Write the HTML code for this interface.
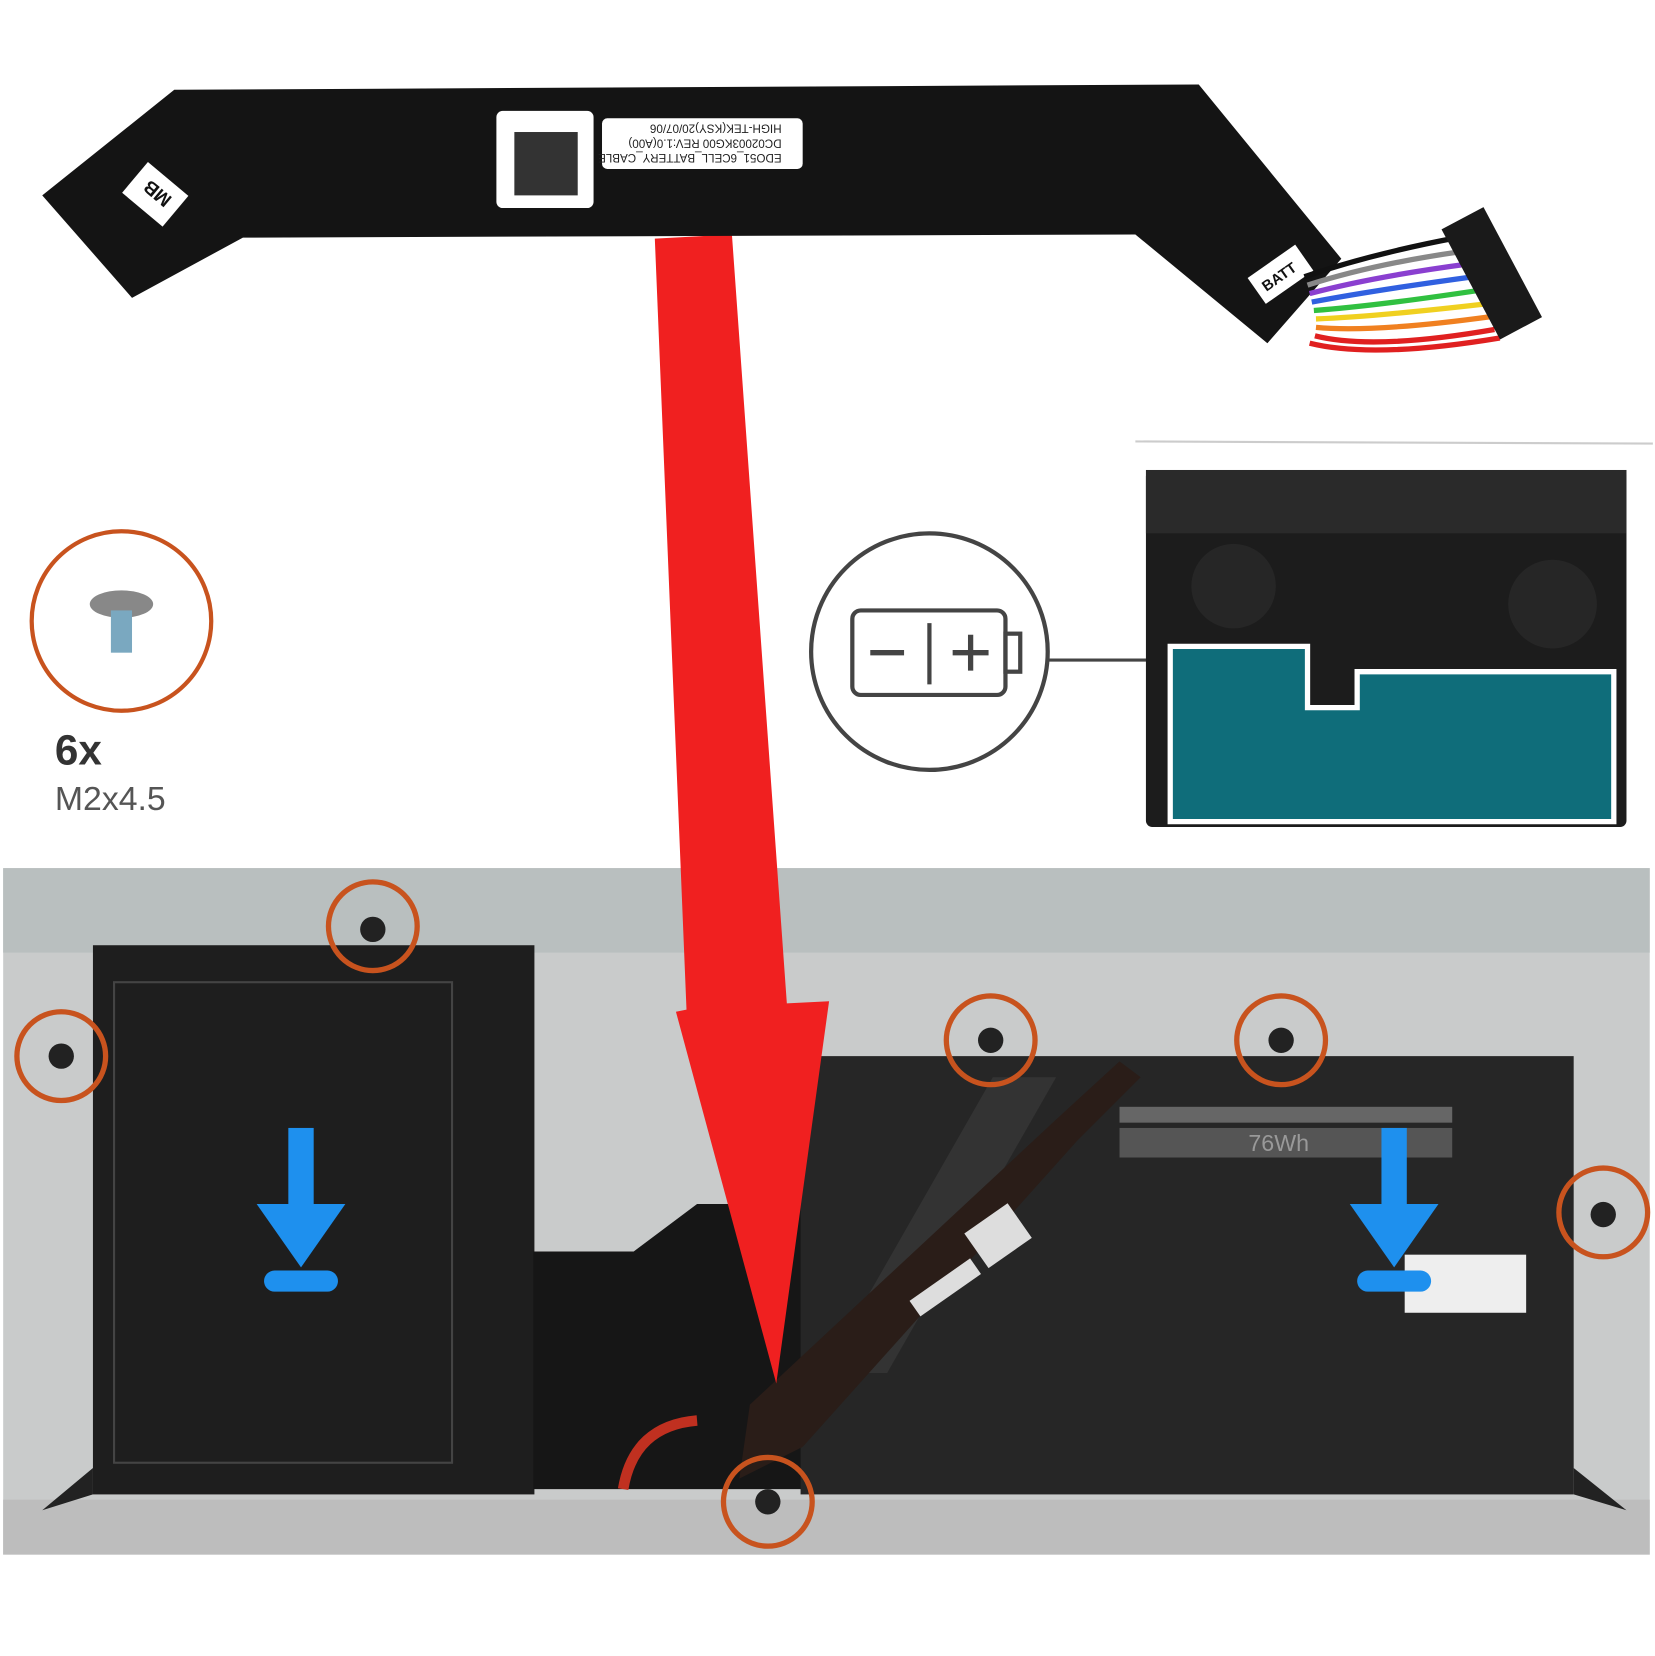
<!DOCTYPE html>
<html><head><meta charset="utf-8"><style>html,body{margin:0;padding:0;background:#fff}svg{display:block}</style></head>
<body>
<svg width="1655" height="1656" viewBox="0 0 1567 1568" preserveAspectRatio="none" xmlns="http://www.w3.org/2000/svg" font-family="Liberation Sans, sans-serif">
<rect width="1567" height="1568" fill="#fff"/>
<!-- bottom panel -->
<rect x="3" y="822" width="1559" height="650" fill="#c9cbcb"/>
<rect x="3" y="822" width="1559" height="80" fill="#b9bfbf"/>
<rect x="3" y="1420" width="1559" height="52" fill="#bdbdbd"/>
<rect x="88" y="895" width="418" height="520" fill="#1e1e1e"/>
<rect x="108" y="930" width="320" height="455" fill="none" stroke="#444" stroke-width="2"/>
<polygon points="505,1185 600,1185 660,1140 760,1140 760,1410 505,1410" fill="#161616"/>
<rect x="758" y="1000" width="732" height="415" fill="#262626"/>
<polygon points="780,1300 940,1020 1000,1020 840,1300" fill="#333"/>
<rect x="1060" y="1048" width="315" height="15" fill="#666"/>
<rect x="1060" y="1068" width="315" height="28" fill="#555"/>
<text x="1182" y="1090" font-size="22" fill="#999">76Wh</text>
<rect x="1330" y="1188" width="115" height="55" fill="#eee"/>
<polygon points="710,1330 1000,1060 1060,1005 1080,1020 1020,1080 760,1370 700,1400" fill="#2a1d18"/>
<rect x="920" y="1150" width="50" height="40" fill="#ddd" transform="rotate(-35 945 1170)"/>
<rect x="860" y="1210" width="70" height="18" fill="#ddd" transform="rotate(-35 895 1219)"/>
<path d="M590,1410 Q600,1350 660,1345" stroke="#c03020" stroke-width="10" fill="none"/>
<path d="M40,1430 L88,1390 L88,1415 Z M1490,1390 L1540,1430 L1490,1415Z" fill="#222"/>
<!-- blue arrows -->
<g fill="#1e90ee">
<rect x="273" y="1068" width="24" height="80"/><polygon points="243,1140 327,1140 285,1200"/><rect x="250" y="1203" width="70" height="20" rx="10"/>
<rect x="1308" y="1068" width="24" height="80"/><polygon points="1278,1140 1362,1140 1320,1200"/><rect x="1285" y="1203" width="70" height="20" rx="10"/>
</g>
<!-- screw circles -->
<g fill="none" stroke="#c8531e" stroke-width="5">
<circle cx="353" cy="877" r="42"/><circle cx="58" cy="1000" r="42"/><circle cx="938" cy="985" r="42"/><circle cx="1213" cy="985" r="42"/><circle cx="1518" cy="1148" r="42"/><circle cx="727" cy="1422" r="42"/>
</g>
<g fill="#222"><circle cx="353" cy="880" r="12"/><circle cx="58" cy="1000" r="12"/><circle cx="938" cy="985" r="12"/><circle cx="1213" cy="985" r="12"/><circle cx="1518" cy="1150" r="12"/><circle cx="727" cy="1422" r="12"/></g>
<!-- red arrow -->
<polygon points="620,226 693,222 745,950 785,948 735,1310 640,958 650,956" fill="#f02020"/>
<!-- top cable -->
<polygon points="40,185 165,85 1135,80 1270,245 1200,325 1075,222 230,225 125,282" fill="#141414"/>
<rect x="122" y="165" width="50" height="38" fill="#fff" transform="rotate(40 147 184)"/>
<text x="132" y="192" font-size="18" font-weight="bold" fill="#111" transform="rotate(220 147 184)">MB</text>
<rect x="470" y="105" width="92" height="92" rx="6" fill="#fff"/>
<rect x="487" y="125" width="60" height="60" fill="#333"/>
<rect x="570" y="112" width="190" height="48" rx="5" fill="#fff"/>
<text x="590" y="126" font-size="11" fill="#222" transform="rotate(180 665 136)">EDO51_6CELL_BATTERY_CABLE</text>
<text x="590" y="140" font-size="11" fill="#222" transform="rotate(180 665 136)">DC02003KG00 REV:1.0(A00)</text>
<text x="590" y="154" font-size="11" fill="#222" transform="rotate(180 665 136)">HIGH-TEK(KSY)20/07/06</text>
<rect x="1185" y="245" width="55" height="30" fill="#fff" transform="rotate(-35 1212 260)"/>
<text x="1192" y="266" font-size="14" font-weight="bold" fill="#111" transform="rotate(-35 1212 260)">BATT</text>
<g fill="none" stroke-width="5">
<path d="M1235,262 Q1300,240 1380,225" stroke="#111"/><path d="M1238,270 Q1300,250 1385,238" stroke="#888"/>
<path d="M1240,278 Q1300,262 1390,250" stroke="#8a3fd0"/><path d="M1242,286 Q1300,275 1395,262" stroke="#3060e0"/>
<path d="M1244,294 Q1300,290 1400,275" stroke="#30c040"/><path d="M1246,302 Q1300,300 1405,288" stroke="#f0d020"/>
<path d="M1246,310 Q1300,315 1410,300" stroke="#f08020"/><path d="M1245,318 Q1300,332 1415,312" stroke="#e02020"/>
<path d="M1240,325 Q1300,340 1420,320" stroke="#e02020"/></g>
<rect x="1390" y="200" width="45" height="118" fill="#1a1a1a" transform="rotate(-28 1412 259)"/>
<!-- screw legend -->
<circle cx="115" cy="588" r="85" fill="none" stroke="#c8531e" stroke-width="4"/>
<ellipse cx="115" cy="572" rx="30" ry="13" fill="#888"/><rect x="105" y="578" width="20" height="40" fill="#7aa8c0"/>
<text x="52" y="724" font-size="40" font-weight="bold" fill="#333">6x</text>
<text x="52" y="767" font-size="32" fill="#555">M2x4.5</text>
<!-- battery icon -->
<line x1="1075" y1="418" x2="1565" y2="420" stroke="#ccc" stroke-width="2"/>
<circle cx="880" cy="617" r="112" fill="#fff" stroke="#444" stroke-width="4"/>
<line x1="992" y1="625" x2="1108" y2="625" stroke="#444" stroke-width="3"/>
<rect x="807" y="578" width="145" height="80" rx="8" fill="none" stroke="#444" stroke-width="4"/>
<rect x="952" y="600" width="14" height="36" fill="none" stroke="#444" stroke-width="4"/>
<line x1="880" y1="590" x2="880" y2="648" stroke="#444" stroke-width="4"/>
<line x1="824" y1="618" x2="856" y2="618" stroke="#444" stroke-width="5"/>
<line x1="902" y1="618" x2="936" y2="618" stroke="#444" stroke-width="5"/><line x1="919" y1="601" x2="919" y2="635" stroke="#444" stroke-width="5"/>
<!-- laptop -->
<rect x="1085" y="445" width="455" height="338" rx="6" fill="#1c1c1c"/>
<rect x="1085" y="445" width="455" height="60" fill="#2a2a2a"/>
<circle cx="1168" cy="555" r="40" fill="#262626"/><circle cx="1470" cy="572" r="42" fill="#262626"/>
<polygon points="1108,612 1238,612 1238,670 1285,670 1285,636 1528,636 1528,778 1108,778" fill="#0f6d7a" stroke="#fff" stroke-width="5"/>
</svg>
</body></html>
